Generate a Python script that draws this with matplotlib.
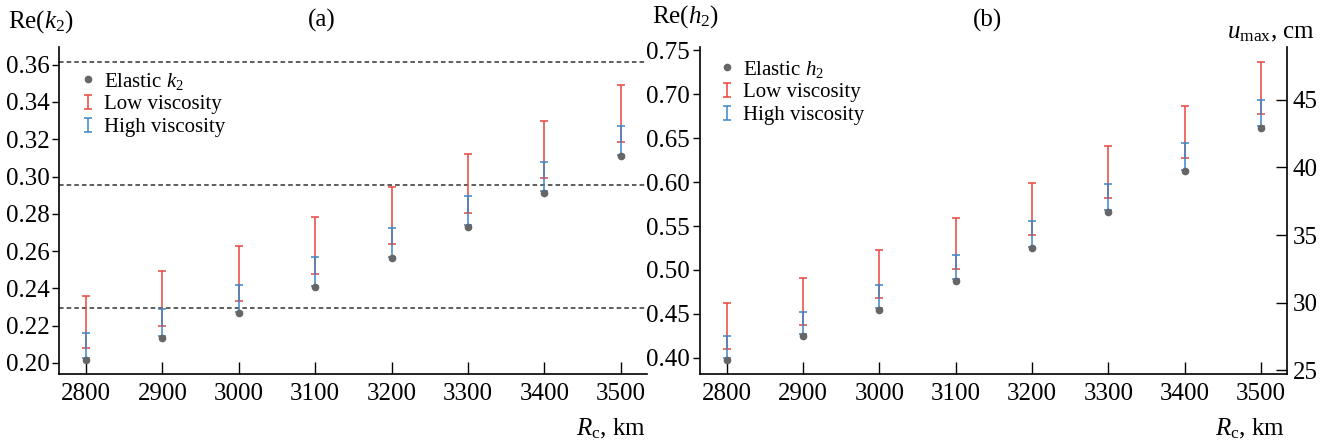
import matplotlib
matplotlib.use('Agg')
from matplotlib import pyplot as plt          # pour tracer la figure
from matplotlib.legend_handler import HandlerErrorbar
from matplotlib.container import ErrorbarContainer
from matplotlib.ticker import FormatStrFormatter
import numpy as np

# ================================
# Données
# ================================
rc = [2800, 2900, 3000, 3100, 3200, 3300, 3400, 3500]

k2_elastic = [0.2016, 0.2136, 0.2266, 0.2405, 0.2561, 0.2730, 0.2914, 0.3109]
k2_low_min = [0.2079, 0.2200, 0.2334, 0.2477, 0.2638, 0.2805, 0.2991, 0.3184]
k2_low_max = [0.2361, 0.2493, 0.2630, 0.2782, 0.2946, 0.3120, 0.3300, 0.3491]
k2_high_min = [0.2025, 0.2146, 0.2273, 0.2414, 0.2570, 0.2739, 0.2923, 0.3118]
k2_high_max = [0.2163, 0.2288, 0.2420, 0.2566, 0.2725, 0.2896, 0.3079, 0.3271]

# valeur observée de k2 et son incertitude (lignes pointillées)
k2_obs = 0.2955
k2_obs_err = 0.066

h2_elastic = [0.3973, 0.4246, 0.4542, 0.4879, 0.5255, 0.5660, 0.6123, 0.6616]
h2_low_min = [0.4099, 0.4371, 0.4675, 0.5012, 0.5395, 0.5816, 0.6271, 0.6771]
h2_low_max = [0.4622, 0.4910, 0.5232, 0.5588, 0.5986, 0.6411, 0.6873, 0.7370]
h2_high_min = [0.3992, 0.4265, 0.4561, 0.4895, 0.5266, 0.5679, 0.6134, 0.6635]
h2_high_max = [0.4250, 0.4523, 0.4830, 0.5175, 0.5562, 0.5983, 0.6441, 0.6938]

# u_max (cm) = facteur * h2
u_per_h2 = 64.85
u_ticks = [25, 30, 35, 40, 45]

k2_ticks = [0.20, 0.22, 0.24, 0.26, 0.28, 0.30, 0.32, 0.34, 0.36]
h2_ticks = [0.40, 0.45, 0.50, 0.55, 0.60, 0.65, 0.70, 0.75]

RED, RED_CAP = '#e8463d', '#f08c86'
BLUE, BLUE_CAP = '#3b85c6', '#8bb8e0'
GREY = '#666666'


# ================================
# Trace un panneau (points + barres d'erreur)
# ================================
def draw_panel(ax, elastic, low_min, low_max, high_min, high_max, name):
    bars = []
    for lo, hi, col, cap, lab in [(low_min, low_max, RED, RED_CAP, 'Low viscosity'),
                                  (high_min, high_max, BLUE, BLUE_CAP, 'High viscosity')]:
        lo = np.array(lo)
        hi = np.array(hi)
        eb = ax.errorbar(rc, (lo + hi) / 2, yerr=(hi - lo) / 2, fmt='none',
                         ecolor=col, elinewidth=1.1, capsize=3.2, capthick=1.1,
                         label=lab)
        for c in eb[1]:
            c.set_color(cap)
        bars.append(eb)
    dot, = ax.plot(rc, elastic, 'o', ls='none', ms=4.5, color=GREY, zorder=5,
                   label='Elastic $' + name + '_2$')

    ax.set_xlim(2765, 3534)
    ax.set_xticks(rc)
    ax.spines['top'].set_visible(False)
    ax.spines['right'].set_visible(False)
    for s in ax.spines.values():
        s.set_linewidth(1.2)
    ax.tick_params(axis='x', direction='in', length=9, width=1, pad=6)
    ax.tick_params(axis='y', direction='out', length=5, width=1, pad=2)
    ax.yaxis.set_major_formatter(FormatStrFormatter('%.2f'))

    return [dot] + bars


def add_legend(ax, handles, anchor):
    ax.legend(handles, [hd.get_label() for hd in handles], loc='upper left',
              bbox_to_anchor=anchor, frameon=False, fontsize=15,
              handlelength=0.75, handletextpad=0.4, labelspacing=0.15,
              borderpad=0, borderaxespad=0,
              handler_map={ErrorbarContainer: HandlerErrorbar(xerr_size=0.34)})


def main():
    plt.rcParams['font.family'] = ['Liberation Serif', 'DejaVu Serif']
    plt.rcParams['mathtext.fontset'] = 'custom'
    plt.rcParams['mathtext.rm'] = 'Liberation Serif'
    plt.rcParams['mathtext.it'] = 'Liberation Serif:italic'
    plt.rcParams['font.size'] = 18

    fig = plt.figure(figsize=(13.32, 4.47), dpi=100)
    ax1 = fig.add_axes([0.0445, 0.1626, 0.441, 0.7323])
    ax2 = fig.add_axes([0.5255, 0.1626, 0.4407, 0.7323])

    # panneau (a) : k2
    h = draw_panel(ax1, k2_elastic, k2_low_min, k2_low_max,
                   k2_high_min, k2_high_max, 'k')
    for yv in [k2_obs - k2_obs_err, k2_obs, k2_obs + k2_obs_err]:
        ax1.axhline(yv, color='#333333', ls=(0, (3, 2)), lw=1.1, zorder=1)
    ax1.set_ylim(0.1939, 0.3695)
    ax1.set_yticks(k2_ticks)
    add_legend(ax1, h, (0.035, 0.928))

    # panneau (b) : h2 + axe u_max
    h = draw_panel(ax2, h2_elastic, h2_low_min, h2_low_max,
                   h2_high_min, h2_high_max, 'h')
    ax2.set_ylim(0.381, 0.754)
    ax2.set_yticks(h2_ticks)
    add_legend(ax2, h, (0.032, 0.964))
    sec = ax2.secondary_yaxis('right', functions=(lambda v: v * u_per_h2,
                                                  lambda u: u / u_per_h2))
    sec.set_yticks(u_ticks)
    sec.spines['right'].set_linewidth(1.2)
    sec.tick_params(direction='in', length=8, width=1, pad=4)

    # textes
    fig.text(0.006, 0.951, 'Re($k_2$)', ha='left', va='center')
    fig.text(0.4895, 0.962, 'Re($h_2$)', ha='left', va='center')
    fig.text(0.2417, 0.955, '(a)', ha='center', va='center')
    fig.text(0.741, 0.955, '(b)', ha='center', va='center')
    fig.text(0.485, 0.0405, '$R_{\\rm c}$, km', ha='right', va='center')
    fig.text(0.9647, 0.0405, '$R_{\\rm c}$, km', ha='right', va='center')
    fig.text(0.9875, 0.926, '$u_{\\rm max}$, cm', ha='right', va='center')

    fig.savefig('out.png', dpi=100)


if __name__ == "__main__":
    main()
